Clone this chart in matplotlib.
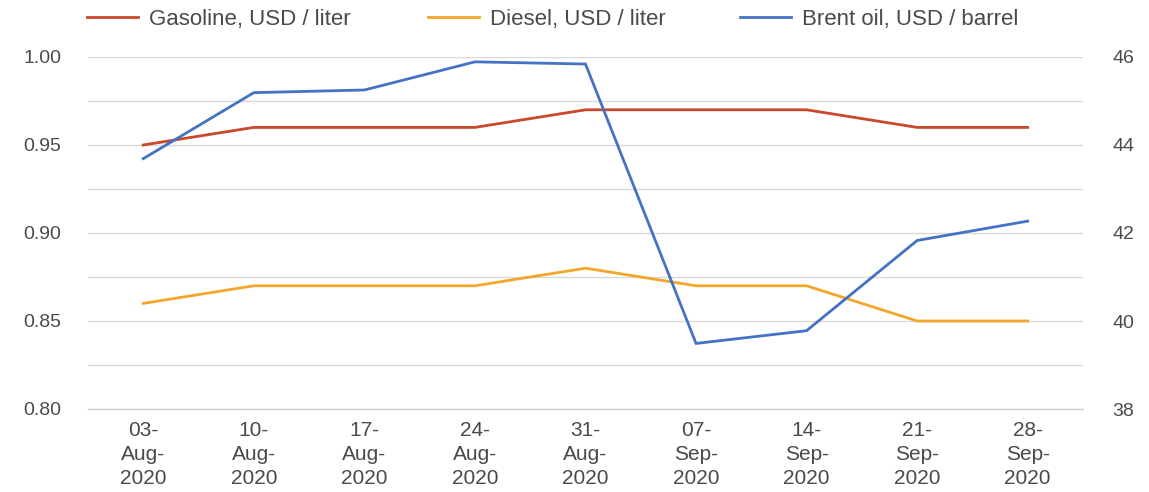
import numpy as np
import matplotlib
matplotlib.use("Agg")
import matplotlib.pyplot as plt

plt.rcParams['font.family'] = ['Liberation Sans', 'DejaVu Sans']

# data
dates = ["03-\nAug-\n2020", "10-\nAug-\n2020", "17-\nAug-\n2020", "24-\nAug-\n2020",
         "31-\nAug-\n2020", "07-\nSep-\n2020", "14-\nSep-\n2020", "21-\nSep-\n2020",
         "28-\nSep-\n2020"]
gasoline = [0.95, 0.96, 0.96, 0.96, 0.97, 0.97, 0.97, 0.96, 0.96]
diesel = [0.86, 0.87, 0.87, 0.87, 0.88, 0.87, 0.87, 0.85, 0.85]
brent = [43.69, 45.19, 45.25, 45.89, 45.84, 39.49, 39.78, 41.83, 42.27]

labels = ["Gasoline, USD / liter", "Diesel, USD / liter", "Brent oil, USD / barrel"]
colors = ["#c9472b", "#f2a72a", "#4472c4"]
text_color = "#4a4a4a"

W, H = 1149, 492
fig = plt.figure(figsize=(W / 100, H / 100), dpi=100)
ax = fig.add_axes([88 / W, 83 / H, 995 / W, 352 / H])

x = np.arange(len(dates))
l1, = ax.plot(x, gasoline, color=colors[0], lw=2.0, solid_joinstyle="miter")
l2, = ax.plot(x, diesel, color=colors[1], lw=2.0, solid_joinstyle="miter")

ax.set_xlim(-0.5, len(dates) - 0.5)
ax.set_ylim(0.80, 1.00)
ax.set_yticks(np.arange(0.80, 1.001, 0.05))
ax.set_yticklabels([f"{v:.2f}" for v in np.arange(0.80, 1.001, 0.05)])
ax.set_yticks(np.arange(0.825, 1.0, 0.05), minor=True)
ax.grid(True, which="both", axis="y", color="#d9d9d9", lw=1.0)
ax.axhline(0.80, color="#d0d0d0", lw=1.0, clip_on=False, zorder=0.5)
ax.set_axisbelow(True)
ax.set_xticks(x)
ax.set_xticklabels(dates, fontsize=15, color=text_color, linespacing=1.3)
ax.tick_params(axis="x", length=0, pad=9)
ax.tick_params(axis="y", which="both", length=0, pad=19, labelsize=14, labelcolor=text_color)
for s in ax.spines.values():
    s.set_visible(False)

ax2 = ax.twinx()
l3, = ax2.plot(x, brent, color=colors[2], lw=2.0, solid_joinstyle="miter")
ax2.set_ylim(38, 46)
ax2.set_yticks(np.arange(38, 47, 2))
ax2.tick_params(axis="y", length=0, pad=21, labelsize=14, labelcolor=text_color)
for s in ax2.spines.values():
    s.set_visible(False)

# legend entries placed one by one to follow the reference spacing
starts = [87, 428, 740]
for handle, lab, x0 in zip([l1, l2, l3], labels, starts):
    leg = fig.legend([handle], [lab], loc="center left",
                     bbox_to_anchor=(x0 / W, 1 - 19 / H),
                     frameon=False, fontsize=16, handlelength=2.3,
                     handletextpad=0.5, borderpad=0, borderaxespad=0)
    for t in leg.get_texts():
        t.set_color(text_color)

fig.savefig("out.png", dpi=100)
